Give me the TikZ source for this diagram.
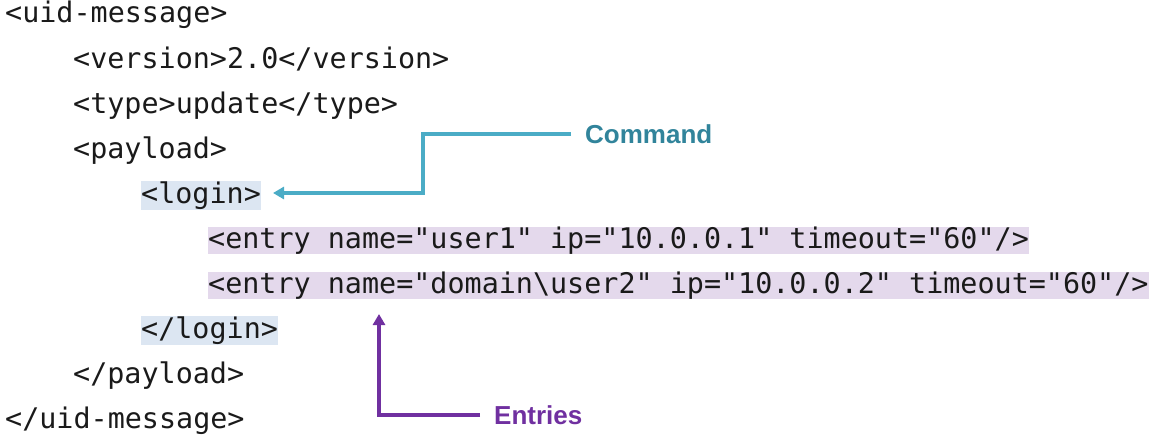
\documentclass[tikz,border=0pt]{standalone}
\usepackage{fontspec}
\setmainfont{Liberation Sans}
\setmonofont{DejaVu Sans Mono}
\usetikzlibrary{arrows.meta}
\definecolor{codeink}{HTML}{1A1A1A}
\definecolor{cmdline}{HTML}{4BACC6}
\definecolor{cmdtext}{HTML}{31849B}
\definecolor{entpurple}{HTML}{7030A0}
\definecolor{hlblue}{HTML}{DCE6F2}
\definecolor{hlpurple}{HTML}{E4D9EC}
\begin{document}
\begin{tikzpicture}[x=1pt,y=-1pt,
  code/.style={anchor=base west, inner sep=0pt, text=codeink, font=\fontsize{28.4}{30}\selectfont\ttfamily},
  hlcmd/.style={code, fill=hlblue, text height=22pt, text depth=7pt},
  hlent/.style={code, fill=hlpurple, text height=21pt, text depth=6pt},
  label/.style={anchor=base west, inner ysep=0pt, inner xsep=14pt, font=\fontsize{26}{28}\selectfont\bfseries},
  conn/.style={line width=3.8pt, -{Triangle[length=11pt,width=12pt]}}
]
\useasboundingbox (0,0) rectangle (1161,447);
\node[code]  (l0) at (5,23)   {<uid-message>};
\node[code]  (l1) at (73,68)  {<version>2.0</version>};
\node[code]  (l2) at (73,113) {<type>update</type>};
\node[code]  (l3) at (73,158) {<payload>};
\node[hlcmd] (login) at (141,203) {<login>};
\node[hlent] (entry1) at (208,248) {<entry name="user1" ip="10.0.0.1" timeout="60"/>};
\node[hlent] (entry2) at (208,293) {<entry name="domain\textbackslash user2" ip="10.0.0.2" timeout="60"/>};
\node[hlcmd] (loginend) at (141,338) {</login>};
\node[code]  (l8) at (73,383) {</payload>};
\node[code]  (l9) at (5,428)  {</uid-message>};

\node[label, text=cmdtext] (cmd) at (571,143) {Command};
\node[label, text=entpurple] (ent) at (480,424) {Entries};

\coordinate (ctip) at (273,193);
\coordinate (etip) at (379,314);
\coordinate (cbend) at (423,0);
\draw[conn, cmdline] (cmd.west) -- (cmd.west -| cbend) |- (ctip);
\draw[conn, entpurple] (ent.west) -| (etip);
\end{tikzpicture}
\end{document}
